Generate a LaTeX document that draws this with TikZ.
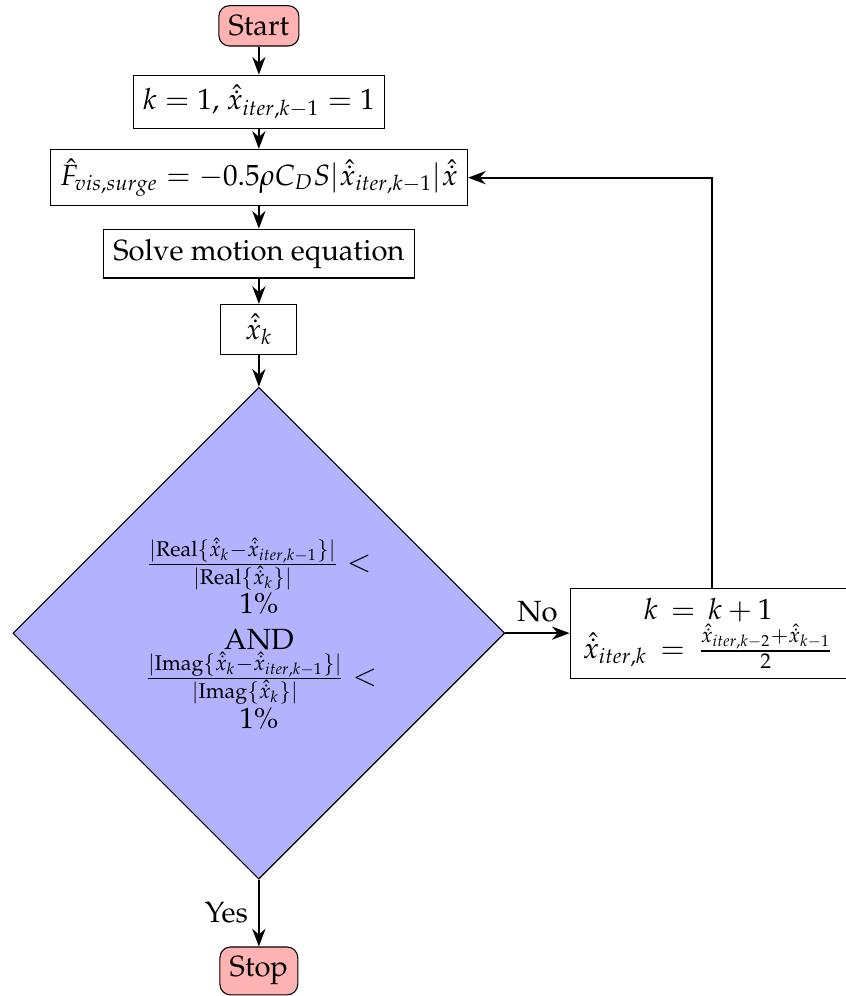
\documentclass[tikz,border=0pt,11pt]{standalone}
\usepackage{amsmath,amssymb}
\usepackage[T1]{fontenc}
\usepackage{mathpazo}
\usetikzlibrary{positioning,shapes.geometric,arrows.meta}

\newcommand{\xhd}{\hat{\dot{x}}}

\begin{document}
\begin{tikzpicture}[
  node distance=1cm, on grid,
  terminal/.style={rectangle, rounded corners=4pt, draw=black, fill=red!30},
  procbox/.style={rectangle, draw=black, minimum width=1cm, align=center},
  decision/.style={diamond, draw=black, fill=blue!30, text width=3cm,
                   align=center, minimum width=6.48cm, minimum height=6.48cm,
                   inner sep=0pt},
  flow/.style={-{Stealth}, thick}
]
\useasboundingbox (-3.41,0.34) rectangle (7.73,-12.78);
% ── main column ──────────────────────────────────────────────────────────────
\node[terminal] (start) {Start};
\node[procbox, below=of start] (init) {$k=1$, $\xhd_{iter,k-1}=1$};
\node[procbox, below=of init] (force)
  {$\hat{F}_{vis,surge}=-0.5\rho C_D S|\xhd_{iter,k-1}|\xhd$};
\node[procbox, below=of force] (solve) {Solve motion equation};
\node[procbox, below=of solve] (xk) {$\xhd_k$};
\node[decision, below=4cm of xk] (check)
  {$\frac{|\mathrm{Real}\{\xhd_k-\xhd_{iter,k-1}\}|}{|\mathrm{Real}\{\xhd_k\}|}<1\%$\\
   AND\\
   $\frac{|\mathrm{Imag}\{\xhd_k-\xhd_{iter,k-1}\}|}{|\mathrm{Imag}\{\xhd_k\}|}<1\%$};
\node[terminal, below=4.45cm of check] (stop) {Stop};
\node[procbox, minimum width=3.64cm, right=5.92cm of check] (update)
  {$k\,=\,k+1$\\ $\xhd_{iter,k}\,=\,\frac{\xhd_{iter,k-2}+\xhd_{k-1}}{2}$};

% ── flows ────────────────────────────────────────────────────────────────────
\draw[flow] (start) -- (init);
\draw[flow] (init) -- (force);
\draw[flow] (force) -- (solve);
\draw[flow] (solve) -- (xk);
\draw[flow] (xk) -- (check);
\draw[flow] (check) -- node[above]{No} (update);
\draw[flow] (check) -- node[left]{Yes} (stop);
\draw[flow] ([xshift=0.05cm]update.north) |- (force.east);
\end{tikzpicture}
\end{document}
